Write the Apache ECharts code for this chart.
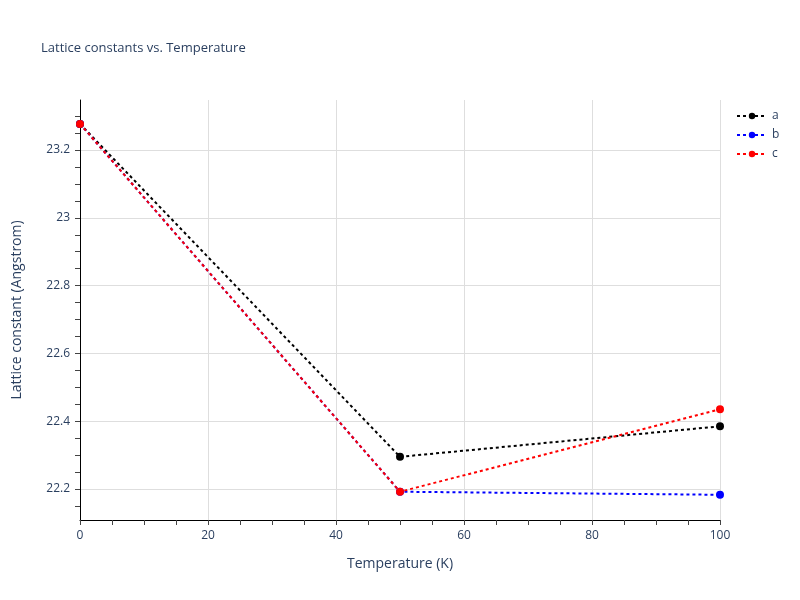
<!DOCTYPE html>
<html><head><meta charset="utf-8">
<script src="https://cdn.jsdelivr.net/npm/echarts@6/dist/echarts.min.js"></script>
<style>html,body{margin:0;padding:0;background:#fff}#c{width:800px;height:600px}</style>
</head><body><div id="c"></div>
<script>
var temperatures = [0, 50, 100];
var seriesA = [23.277, 22.295, 22.385];
var seriesB = [23.277, 22.192, 22.183];
var seriesC = [23.277, 22.192, 22.435];
var seriesNames = ['a', 'b', 'c'];
var seriesColors = ['#000000', '#0000ff', '#ff0000'];
var yLabelValues = [22.2, 22.4, 22.6, 22.8, 23, 23.2];
var yTickValues = [22.15, 22.2, 22.25, 22.3, 22.35, 22.4, 22.45, 22.5, 22.55, 22.6, 22.65, 22.7, 22.75, 22.8, 22.85, 22.9, 22.95, 23, 23.05, 23.1, 23.15, 23.2, 23.25, 23.3];
var yMin = 22.1086, yMax = 23.3475;

var font = '"Open Sans", "Noto Sans", sans-serif';
var txt = '#2a3f5f';
var allSeries = [seriesA, seriesB, seriesC];
var chart = echarts.init(document.getElementById('c'));
chart.setOption({
  animation: false,
  backgroundColor: '#fff',
  title: { text: 'Lattice constants vs. Temperature', left: 36, top: 37,
    textStyle: { fontFamily: font, fontSize: 13, fontWeight: 'normal', color: txt } },
  legend: { orient: 'vertical', left: 731, top: 105, itemGap: 7, itemWidth: 30, itemHeight: 8,
    textStyle: { fontFamily: font, fontSize: 12, color: txt }, data: seriesNames },
  grid: { left: 80, right: 80, top: 100, bottom: 80, containLabel: false },
  xAxis: {
    type: 'value', min: 0, max: 100, interval: 20,
    name: 'Temperature (K)', nameLocation: 'middle', nameGap: 37,
    nameTextStyle: { fontFamily: font, fontSize: 14, color: txt },
    axisLine: { show: true, lineStyle: { color: '#000', width: 1 } },
    axisTick: { show: true, inside: false, length: 5, lineStyle: { color: '#444' } },
    minorTick: { show: true, splitNumber: 4, length: 5, lineStyle: { color: '#444' } },
    axisLabel: { fontFamily: font, fontSize: 12, color: txt, margin: 10 },
    splitLine: { show: true, lineStyle: { color: '#dedede', width: 1 } }
  },
  yAxis: [{
    type: 'value', min: yMin, max: yMax,
    name: 'Lattice constant (Angstrom)', nameLocation: 'middle', nameGap: 56,
    nameTextStyle: { fontFamily: font, fontSize: 14, color: txt },
    axisLine: { show: true, lineStyle: { color: '#000', width: 1 } },
    axisTick: { show: true, length: 5, customValues: yTickValues, lineStyle: { color: '#444' } },
    axisLabel: { fontFamily: font, fontSize: 12, color: txt, margin: 10, customValues: yLabelValues,
      formatter: function (v) { return String(Math.round(v * 10) / 10); } },
    splitLine: { show: false }
  }, {
    type: 'value', min: yMin, max: yMax, position: 'left',
    axisLine: { show: false }, axisLabel: { show: false },
    axisTick: { show: false, customValues: yLabelValues },
    splitLine: { show: true, lineStyle: { color: '#dedede', width: 1 } }
  }],
  series: seriesNames.map(function (n, i) {
    return {
      name: n, type: 'line', yAxisIndex: 0,
      data: temperatures.map(function (t, j) { return [t, allSeries[i][j]]; }),
      symbol: 'circle', symbolSize: 8, showSymbol: true,
      itemStyle: { color: seriesColors[i] },
      lineStyle: { color: seriesColors[i], width: 2, type: [3, 3] },
      z: 3 + i
    };
  })
});
</script></body></html>
